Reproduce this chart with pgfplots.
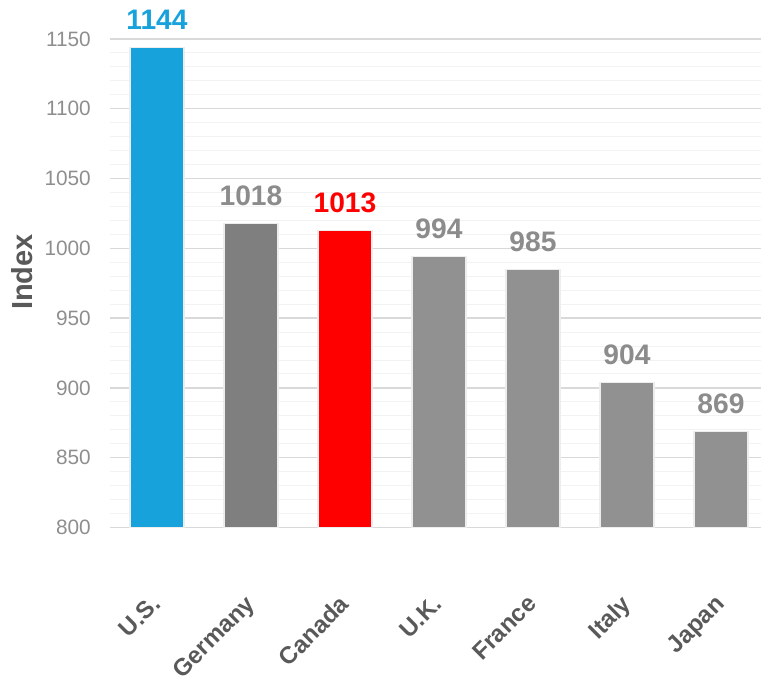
\documentclass[border=0pt]{standalone}
\usepackage{fontspec}
\setmainfont{Liberation Sans}
\usepackage{pgfplots}
\pgfplotsset{compat=1.18}
\definecolor{usblue}{HTML}{17A2DC}
\definecolor{gerg}{HTML}{7F7F7F}
\definecolor{barg}{HTML}{919191}
\definecolor{valg}{HTML}{8C8C8C}
\definecolor{tickgray}{HTML}{8E8E8E}
\definecolor{labgray}{HTML}{595959}
\definecolor{gridmaj}{HTML}{D9D9D9}
\definecolor{gridmin}{HTML}{F2F2F2}
\definecolor{barline}{HTML}{EDEDED}
\begin{document}
\begin{tikzpicture}
\useasboundingbox (-110bp,-150.5bp) rectangle (651bp,527.5bp);
\begin{axis}[
  scale only axis, width=651bp, height=488.5bp,
  xmin=-0.5, xmax=6.4255, ymin=800, ymax=1150,
  ytick={800,850,...,1150}, minor y tick num=4,
  ymajorgrids, yminorgrids,
  major grid style={draw=gridmaj, line width=1.3bp},
  minor grid style={draw=gridmin, line width=1bp},
  xtick={0,...,6}, xticklabels={U.S.,Germany,Canada,U.K.,France,Italy,Japan},
  major tick length=0pt, minor tick length=0pt,
  axis line style={draw=none},
  yticklabel style={font=\fontsize{20.8bp}{24bp}\selectfont, text=tickgray, inner sep=0pt, xshift=-19bp},
  xticklabel style={font=\bfseries\fontsize{24bp}{28bp}\selectfont, text=labgray, inner sep=0pt, xshift=-7bp, yshift=-66bp, rotate=45, anchor=north east},
  ylabel={Index},
  ylabel style={font=\bfseries\fontsize{29bp}{32bp}\selectfont, text=labgray, at={(axis description cs:-0.135,0.523)}, anchor=center, inner sep=0pt},
  /pgf/number format/assume math mode=true, /pgf/number format/1000 sep={},
  ybar, bar width=54bp, bar shift=0pt,
  clip mode=individual,
  nodes near coords,
  nodes near coords style={font=\bfseries\fontsize{28.2bp}{30bp}\selectfont, anchor=south, inner sep=0pt, yshift=17bp},
]
\addplot[fill=usblue, draw=barline, line width=1.3bp, every node near coord/.append style={text=usblue}] coordinates {(0,1144)};
\addplot[fill=gerg, draw=barline, line width=1.3bp, every node near coord/.append style={text=valg}] coordinates {(1,1018)};
\addplot[fill=red, draw=barline, line width=1.3bp, every node near coord/.append style={text=red}] coordinates {(2,1013)};
\addplot[fill=barg, draw=barline, line width=1.3bp, every node near coord/.append style={text=valg}] coordinates {(3,994) (4,985) (5,904) (6,869)};
\end{axis}
\end{tikzpicture}
\end{document}
